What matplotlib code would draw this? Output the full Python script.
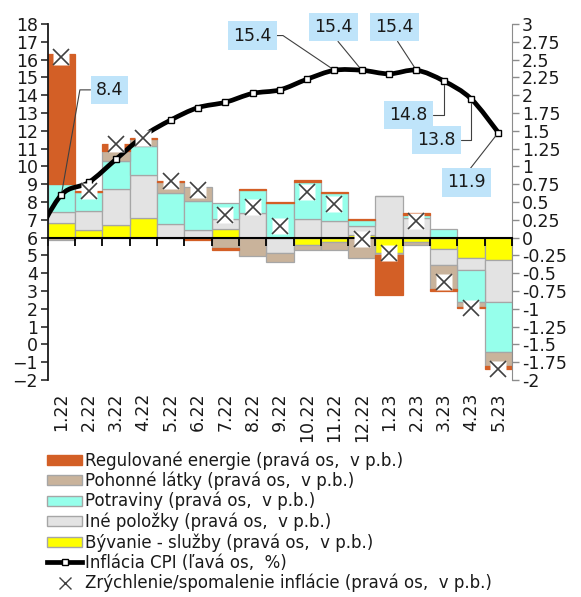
import numpy as np
import matplotlib
matplotlib.use('Agg')
import matplotlib.pyplot as plt
from matplotlib.path import Path
from matplotlib.patches import PathPatch, Patch
from matplotlib.lines import Line2D

# months on the category axis
months = ['1.22', '2.22', '3.22', '4.22', '5.22', '6.22', '7.22', '8.22', '9.22',
          '10.22', '11.22', '12.22', '1.23', '2.23', '3.23', '4.23', '5.23']

# CPI inflation, left axis (%)
cpi = [8.4, 9.1, 10.4, 11.7, 12.6, 13.3, 13.6, 14.1, 14.3,
       14.9, 15.4, 15.4, 15.2, 15.4, 14.8, 13.8, 11.9]
cpi_dec21 = 5.8  # previous month, line enters from the left edge

# contributions to change of inflation, right axis (p.b.)
byvanie = [0.20, 0.10, 0.18, 0.27, 0.00, 0.00, 0.12, 0.00, 0.00,
           -0.11, -0.06, 0.035, -0.21, -0.06, -0.155, -0.29, -0.32]
ine = [0.16, 0.28, 0.50, 0.61, 0.19, 0.11, 0.135, 0.35, -0.21,
       0.26, 0.235, 0.13, 0.58, 0.27, -0.235, -0.165, -0.58]
potraviny = [0.39, 0.26, 0.39, 0.40, 0.43, 0.40, 0.235, 0.315, 0.48,
             0.52, 0.385, 0.08, 0.0, 0.05, 0.12, -0.445, -0.70]
pohonne = [-0.04, 0.0, 0.15, 0.10, 0.16, 0.20, -0.15, -0.255, -0.13,
           -0.06, -0.11, -0.28, -0.03, -0.04, -0.335, -0.07, -0.21]
regulovane = [1.83, 0.015, 0.10, 0.02, 0.02, -0.04, -0.02, 0.02, 0.02,
              0.025, 0.015, 0.015, -0.56, 0.02, -0.025, -0.02, -0.03]

labels = ['Regulované energie (pravá os,  v p.b.)',
          'Pohonné látky (pravá os,  v p.b.)',
          'Potraviny (pravá os,  v p.b.)',
          'Iné položky (pravá os,  v p.b.)',
          'Bývanie - služby (pravá os,  v p.b.)',
          'Inflácia CPI (ľavá os,  %)',
          'Zrýchlenie/spomalenie inflácie (pravá os,  v p.b.)']

c_reg = '#D35F26'
c_poh = '#C9B39B'
c_pot = '#96FFEB'
c_ine = '#E3E3E3'
c_byv = '#FFFF00'
edge = '#A6A6A6'
txt = '#1a1a1a'

plt.rcParams['font.family'] = 'DejaVu Sans'

fig = plt.figure(figsize=(5.81, 5.97), dpi=100)
ax = fig.add_axes([47.7 / 581, 1 - 380 / 597, (512 - 47.7) / 581, (380 - 24) / 597])
ax2 = ax.twinx()
ax.set_zorder(ax2.get_zorder() + 1)
ax.patch.set_visible(False)

x = np.arange(len(months))
pos = np.zeros(len(x))
neg = np.zeros(len(x))
for vals, col, ec in [(byvanie, c_byv, edge), (ine, c_ine, edge), (potraviny, c_pot, edge),
                      (pohonne, c_poh, edge), (regulovane, c_reg, c_reg)]:
    v = np.array(vals)
    bottom = np.where(v >= 0, pos, neg)
    ax2.bar(x, v, width=1.0, bottom=bottom, color=col, edgecolor=ec, linewidth=0.9)
    pos += np.clip(v, 0, None)
    neg += np.clip(v, None, 0)
total = pos + neg

# smoothed CPI line (catmull-rom -> bezier)
pts = np.array([[-1, cpi_dec21]] + [[i, v] for i, v in zip(x, cpi)], dtype=float)
verts = [pts[0]]
codes = [Path.MOVETO]
for i in range(len(pts) - 1):
    p0 = pts[i - 1] if i > 0 else pts[i]
    p1 = pts[i]
    p2 = pts[i + 1]
    p3 = pts[i + 2] if i + 2 < len(pts) else pts[i + 1]
    verts += [p1 + (p2 - p0) / 6, p2 - (p3 - p1) / 6, p2]
    codes += [Path.CURVE4] * 3
ax.add_patch(PathPatch(Path(verts, codes), fill=False, lw=3.4, ec='black',
                       capstyle='round', joinstyle='round', zorder=3))
ax.plot(x, cpi, ls='none', marker='s', ms=5, mfc='white', mec='black', mew=1, zorder=4)

# acceleration markers (right axis scale)
ax.plot(x, total, transform=ax2.transData, ls='none', marker='s', ms=11,
        mfc='white', mec='none', zorder=5)
ax.plot(x, total, transform=ax2.transData, ls='none', marker='x', ms=11,
        mew=1.2, color='#404040', zorder=6)

# data labels for selected CPI points
lab_cfg = [
    (0, (34.6, 75.6), (0, 0.5), 'angle,angleA=0,angleB=80,rad=0'),
    (10, (-59.3, 25), (1, 0.5), 'angle,angleA=0,angleB=-34,rad=0'),
    (11, (-20.2, 31), (0.5, 0), 'arc3'),
    (13, (-16, 31), (0.5, 0), 'arc3'),
    (14, (-25.6, -24.5), (1, 0.5), 'angle,angleA=0,angleB=90,rad=0'),
    (15, (-25.1, -29.5), (1, 0.5), 'angle,angleA=0,angleB=90,rad=0'),
    (16, (-22.9, -35.8), (0.5, 1), 'arc3'),
]
for i, off, rp, cs in lab_cfg:
    ax.annotate(f'{cpi[i]:.1f}', xy=(i, cpi[i]), xytext=off, textcoords='offset points',
                ha='center', va='center', fontsize=12.5, color=txt, zorder=7,
                bbox=dict(boxstyle='square,pad=0.3', fc='#BFE4FA', ec='none'),
                arrowprops=dict(arrowstyle='-', color='#404040', lw=0.8, shrinkA=0,
                                shrinkB=3, relpos=rp, connectionstyle=cs))

# axes
ax.set_xlim(-0.5, len(months) - 0.5)
ax.set_ylim(-2, 18)
ax.set_yticks(range(-2, 19))
ax2.set_ylim(-2, 3)
rt = np.arange(-2, 3.01, 0.25)
ax2.set_yticks(rt, [f'{v:g}' for v in rt])

for s in ['top', 'right']:
    ax.spines[s].set_visible(False)
ax.spines['left'].set_color(txt)
ax.spines['left'].set_linewidth(1.3)
ax.spines['bottom'].set_position(('data', 6))
ax.spines['bottom'].set_color('black')
ax.spines['bottom'].set_linewidth(1.5)
for s in ['top', 'left', 'bottom']:
    ax2.spines[s].set_visible(False)
ax2.spines['right'].set_color('#8c8c8c')

ax.set_xticks(x)
ax.set_xticks(np.arange(-0.5, len(months), 1.0), minor=True)
ax.tick_params(axis='x', which='major', length=0, labelbottom=False)
ax.tick_params(axis='x', which='minor', length=6, width=1.3, color='black', direction='out')
ax.tick_params(axis='y', length=5, width=1.1, color=txt, labelsize=12.5, labelcolor=txt, pad=2)
ax2.tick_params(axis='y', length=5, width=1, color='#8c8c8c', labelsize=12.5,
                labelcolor=txt, pad=2)

sec = ax.secondary_xaxis('bottom')
sec.set_xticks(x, months, rotation=90)
sec.tick_params(length=0, pad=9, labelsize=12.5, labelcolor=txt)
sec.spines['bottom'].set_visible(False)

handles = [
    Patch(facecolor=c_reg, edgecolor=c_reg),
    Patch(facecolor=c_poh, edgecolor=edge),
    Patch(facecolor=c_pot, edgecolor=edge),
    Patch(facecolor=c_ine, edgecolor=edge),
    Patch(facecolor=c_byv, edgecolor=edge),
    Line2D([], [], color='black', lw=3.4, marker='s', ms=5, mfc='white', mec='black'),
    Line2D([], [], ls='none', marker='x', color='#404040', ms=8, mew=1),
]
fig.legend(handles, labels, loc='upper left', bbox_to_anchor=(47 / 581, 1 - 451 / 597),
           frameon=False, fontsize=12, handlelength=2.1, handleheight=0.55,
           handletextpad=0.2, labelspacing=0.12, borderaxespad=0, borderpad=0,
           labelcolor=txt)

fig.savefig('out.png', dpi=100)
